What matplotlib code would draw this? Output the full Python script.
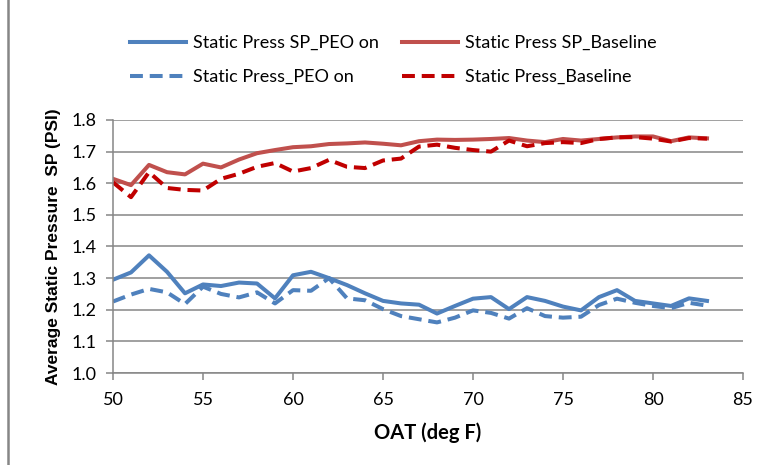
import matplotlib
matplotlib.use("Agg")
import matplotlib.pyplot as plt
from matplotlib.patches import Rectangle

oat = list(range(50, 84))

sp_peo_on = [1.295, 1.318, 1.372, 1.320, 1.252, 1.280, 1.275, 1.286, 1.283, 1.236,
             1.309, 1.320, 1.300, 1.278, 1.252, 1.228, 1.220, 1.216, 1.188, 1.212,
             1.235, 1.240, 1.202, 1.240, 1.228, 1.210, 1.198, 1.240, 1.262, 1.228,
             1.220, 1.212, 1.236, 1.228]

sp_baseline = [1.614, 1.594, 1.658, 1.635, 1.628, 1.662, 1.650, 1.675, 1.695, 1.705,
               1.714, 1.717, 1.724, 1.726, 1.729, 1.725, 1.720, 1.733, 1.738, 1.737,
               1.738, 1.740, 1.743, 1.735, 1.730, 1.740, 1.735, 1.740, 1.745, 1.748,
               1.748, 1.733, 1.745, 1.742]

press_peo_on = [1.226, 1.248, 1.266, 1.255, 1.218, 1.273, 1.250, 1.239, 1.255, 1.220,
                1.262, 1.260, 1.300, 1.236, 1.230, 1.202, 1.180, 1.170, 1.160, 1.175,
                1.198, 1.190, 1.172, 1.205, 1.180, 1.175, 1.178, 1.215, 1.235, 1.222,
                1.212, 1.205, 1.222, 1.213]

press_baseline = [1.603, 1.556, 1.635, 1.585, 1.579, 1.577, 1.614, 1.630, 1.652, 1.664,
                  1.637, 1.648, 1.674, 1.652, 1.648, 1.672, 1.678, 1.716, 1.722, 1.712,
                  1.705, 1.700, 1.735, 1.717, 1.727, 1.730, 1.727, 1.740, 1.745, 1.746,
                  1.741, 1.732, 1.743, 1.741]

labels = ["Static Press SP_PEO on", "Static Press SP_Baseline",
          "Static Press_PEO on", "Static Press_Baseline"]

xticks = [50, 55, 60, 65, 70, 75, 80, 85]
yticks = [1.0, 1.1, 1.2, 1.3, 1.4, 1.5, 1.6, 1.7, 1.8]

fig = plt.figure(figsize=(7.65, 4.65), dpi=100)
ax = fig.add_axes([113/765, 1-373/465, (743-113)/765, (373-120)/465])

grey = "#868686"
lw = 2.9
l1, = ax.plot(oat, sp_peo_on, color="#4F81BD", lw=lw, solid_joinstyle="round", label=labels[0])
l2, = ax.plot(oat, sp_baseline, color="#C0504D", lw=lw, solid_joinstyle="round", label=labels[1])
l3, = ax.plot(oat, press_peo_on, color="#4F81BD", lw=lw, dashes=(3.2, 1.7), label=labels[2])
l4, = ax.plot(oat, press_baseline, color="#C00000", lw=lw, dashes=(3.2, 1.7), label=labels[3])

ax.set_xlim(50, 85)
ax.set_ylim(1.0, 1.8)
ax.set_xticks(xticks)
ax.set_yticks(yticks)
ax.set_xticklabels([str(v) for v in xticks], fontfamily="Lato", fontsize=13)
ax.set_yticklabels([f"{v:.1f}" for v in yticks], fontfamily="Lato", fontsize=13)
ax.yaxis.grid(True, color=grey, lw=1.1)
ax.set_axisbelow(True)
for s in ["top", "right"]:
    ax.spines[s].set_visible(False)
for s in ["left", "bottom"]:
    ax.spines[s].set_color(grey)
    ax.spines[s].set_linewidth(1.1)
ax.tick_params(axis="both", direction="out", length=5, width=1.1, color=grey,
               colors="black", pad=7)
ax.tick_params(axis="x", pad=9)

ax.set_xlabel("OAT (deg F)", fontfamily="Lato", fontweight="bold", fontsize=14.5, labelpad=10)
ax.set_ylabel("Average Static Pressure  SP (PSI)", fontfamily="Liberation Sans",
              fontweight="bold", fontsize=12.5, labelpad=7)

fig.legend([l1, l3, l2, l4], [labels[0], labels[2], labels[1], labels[3]], ncol=2, loc="center",
           bbox_to_anchor=(0.514, 1-60/465), frameon=False,
           prop={"family": "Lato", "size": 13}, handlelength=3.1,
           handletextpad=0.4, columnspacing=1.3, labelspacing=1.0)

fig.patches.append(Rectangle((8/765, -0.2), 1.2, 1.2 + (1-9/465), transform=fig.transFigure,
                             fill=False, edgecolor=grey, lw=1.8, figure=fig))

fig.savefig("out.png", dpi=100)
